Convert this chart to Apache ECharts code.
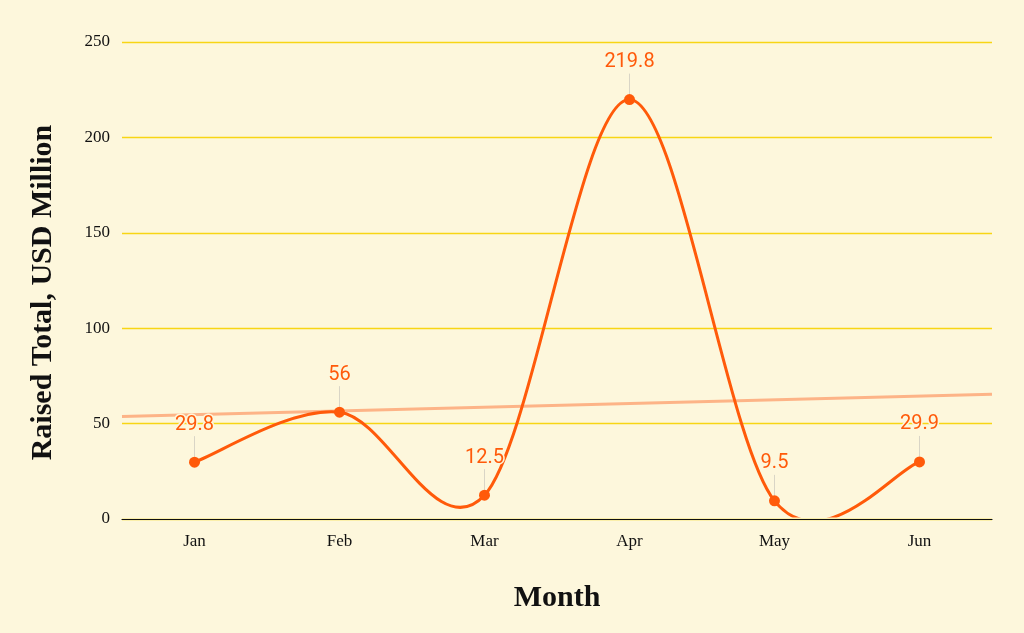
<!DOCTYPE html>
<html><head><meta charset="utf-8">
<script src="https://cdn.jsdelivr.net/npm/echarts@6/dist/echarts.min.js"></script>
<style>html,body{margin:0;padding:0;background:#fdf7dc}#c{width:1024px;height:633px}</style>
</head><body><div id="c"></div>
<script>
const months = ['Jan','Feb','Mar','Apr','May','Jun'];
const raised = [29.8, 56, 12.5, 219.8, 9.5, 29.9];
const trendEnds = [53.7, 65.4];
const yTicks = {min: 0, max: 250, interval: 50};

const bg = '#fdf7dc';
const lineColor = '#ff5a0a';

// Catmull-Rom spline through the points, positioned by the axes' own scales
function renderSpline(params, api) {
  if (params.dataIndex !== 0) return null;
  const pts = raised.map((v, i) => api.coord([i, v]));
  const n = pts.length;
  const P = i => pts[Math.max(0, Math.min(n - 1, i))];
  let d = 'M' + pts[0][0] + ' ' + pts[0][1];
  for (let i = 0; i < n - 1; i++) {
    const p0 = P(i - 1), p1 = P(i), p2 = P(i + 1), p3 = P(i + 2);
    const c1 = [p1[0] + (p2[0] - p0[0]) / 6, p1[1] + (p2[1] - p0[1]) / 6];
    const c2 = [p2[0] - (p3[0] - p1[0]) / 6, p2[1] - (p3[1] - p1[1]) / 6];
    d += ' C' + c1[0] + ' ' + c1[1] + ' ' + c2[0] + ' ' + c2[1] + ' ' + p2[0] + ' ' + p2[1];
  }
  const cs = params.coordSys;
  return {
    type: 'group',
    children: [{
      type: 'path',
      shape: {pathData: d},
      style: {fill: 'none', stroke: lineColor, lineWidth: 3},
      clipPath: {type: 'rect', shape: {x: cs.x, y: cs.y - 2, width: cs.width, height: cs.height + 0.5}}
    }]
  };
}

const chart = echarts.init(document.getElementById('c'));
chart.setOption({
  backgroundColor: bg,
  animation: false,
  grid: {left: 122, right: 32, top: 42, bottom: 114},
  xAxis: [{
    type: 'category', data: months, boundaryGap: true,
    name: 'Month', nameLocation: 'middle', nameGap: 64,
    nameTextStyle: {fontFamily: 'Liberation Serif', fontWeight: 'bold', fontSize: 30, color: '#111'},
    axisLine: {lineStyle: {color: '#111', width: 1.2}},
    axisTick: {show: false},
    axisLabel: {fontFamily: 'Liberation Serif', fontSize: 17, color: '#111', margin: 14}
  }, {
    type: 'value', min: 0, max: 1, show: false
  }],
  yAxis: {
    type: 'value', min: yTicks.min, max: yTicks.max, interval: yTicks.interval,
    name: 'Raised Total, USD Million', nameLocation: 'middle', nameGap: 64,
    nameTextStyle: {fontFamily: 'Liberation Serif', fontWeight: 'bold', fontSize: 30, color: '#111',
      padding: [0, 24, 0, 0]},
    axisLine: {show: false}, axisTick: {show: false},
    axisLabel: {fontFamily: 'Liberation Serif', fontSize: 17, color: '#111', margin: 12},
    splitLine: {lineStyle: {color: '#f8d514', width: 1.3}}
  },
  series: [{
    type: 'line', xAxisIndex: 1, data: [[0, trendEnds[0]], [1, trendEnds[1]]],
    showSymbol: false, lineStyle: {color: '#fdb487', width: 3}, silent: true, z: 1
  }, {
    type: 'custom', data: raised.map((v, i) => [i, v]),
    renderItem: renderSpline, silent: true, z: 2
  }, {
    type: 'line', data: raised,
    symbol: 'circle', symbolSize: 11,
    itemStyle: {color: lineColor},
    lineStyle: {opacity: 0},
    label: {show: true, position: 'top', distance: 2, color: lineColor, fontFamily: 'Roboto', fontSize: 20,
      textBorderColor: bg, textBorderWidth: 3},
    labelLayout: {dy: -20},
    labelLine: {show: true, lineStyle: {color: '#d9d5c6', width: 1}},
    z: 3
  }]
});
</script></body></html>
